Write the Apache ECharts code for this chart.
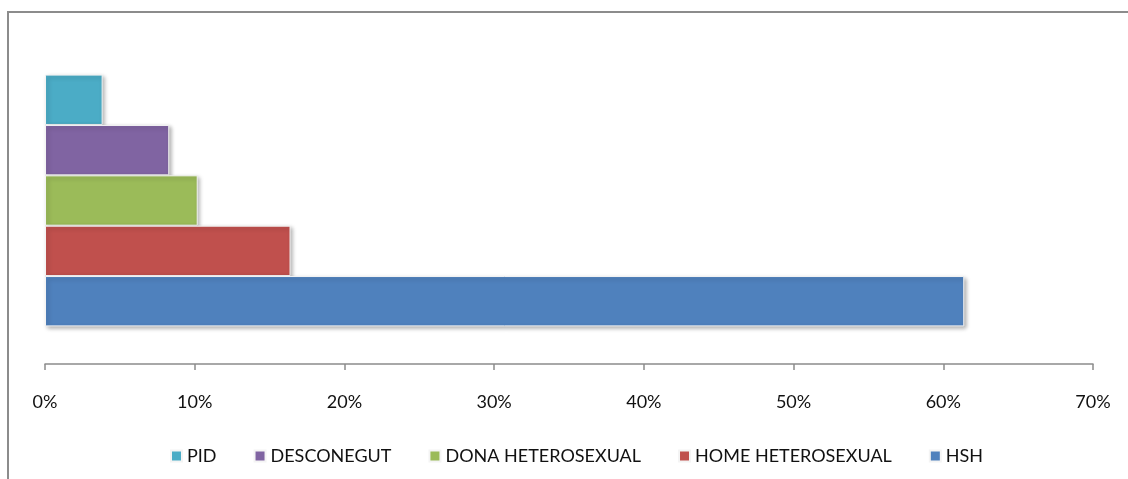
<!DOCTYPE html>
<html>
<head>
<meta charset="utf-8">
<script src="https://cdn.jsdelivr.net/npm/echarts@6/dist/echarts.min.js"></script>
<style>
  html, body { margin: 0; padding: 0; background: #fff; overflow: hidden; }
  #wrap { position: relative; width: 1128px; height: 479px; }
  #frame {
    position: absolute; left: 7px; top: 11px; width: 1300px; height: 600px;
    border-left: 2px solid #8c8c8c; border-top: 2px solid #8c8c8c;
  }
  #chart { position: absolute; left: 0; top: 0; width: 1128px; height: 479px; }
</style>
</head>
<body>
<div id="wrap">
  <div id="frame"></div>
  <div id="chart"></div>
</div>
<script>
// una sola categoria, cinc sèries (la primera queda a dalt)
const categories = [''];
const seriesNames = ['PID', 'DESCONEGUT', 'DONA HETEROSEXUAL', 'HOME HETEROSEXUAL', 'HSH'];
const seriesValues = [3.85, 8.3, 10.2, 16.4, 61.4];
const xTicks = [0, 10, 20, 30, 40, 50, 60, 70];

const palette = ['#4bacc6', '#8064a2', '#9bbb59', '#c0504d', '#4f81bd'];
const fontFamily = 'Lato, "Open Sans", sans-serif';

const chart = echarts.init(document.getElementById('chart'), null, { renderer: 'canvas' });

const series = seriesNames.map((name, i) => ({
  name: name,
  type: 'bar',
  data: [seriesValues[i]],
  barGap: '0%',
  barCategoryGap: '23%',
  itemStyle: {
    color: palette[i],
    borderColor: '#f4f4f4',
    borderWidth: 1,
    shadowColor: 'rgba(0, 0, 0, 0.3)',
    shadowBlur: 4,
    shadowOffsetX: 2,
    shadowOffsetY: 2
  },
  emphasis: { disabled: true },
  animation: false
}));

chart.setOption({
  animation: false,
  grid: {
    left: 45,
    right: 35,
    top: 37,
    bottom: 115,
    outerBoundsMode: 'none'
  },
  legend: {
    data: seriesNames,
    left: 170,
    top: 447,
    padding: 0,
    itemWidth: 11,
    itemHeight: 11,
    itemGap: 37,
    icon: 'rect',
    textStyle: { fontFamily: fontFamily, fontSize: 18, color: '#111' }
  },
  xAxis: {
    type: 'value',
    min: xTicks[0],
    max: xTicks[xTicks.length - 1],
    interval: 10,
    splitLine: { show: false },
    axisLine: { show: true, lineStyle: { color: '#8c8c8c', width: 1.5 } },
    axisTick: { show: true, length: 6, lineStyle: { color: '#8c8c8c', width: 1.5 } },
    axisLabel: {
      margin: 29,
      fontFamily: fontFamily,
      fontSize: 18,
      color: '#111',
      formatter: '{value}%'
    }
  },
  yAxis: {
    type: 'category',
    data: categories,
    axisLine: { show: false },
    axisTick: { show: false },
    axisLabel: { show: false },
    splitLine: { show: false }
  },
  series: series
});
</script>
</body>
</html>
